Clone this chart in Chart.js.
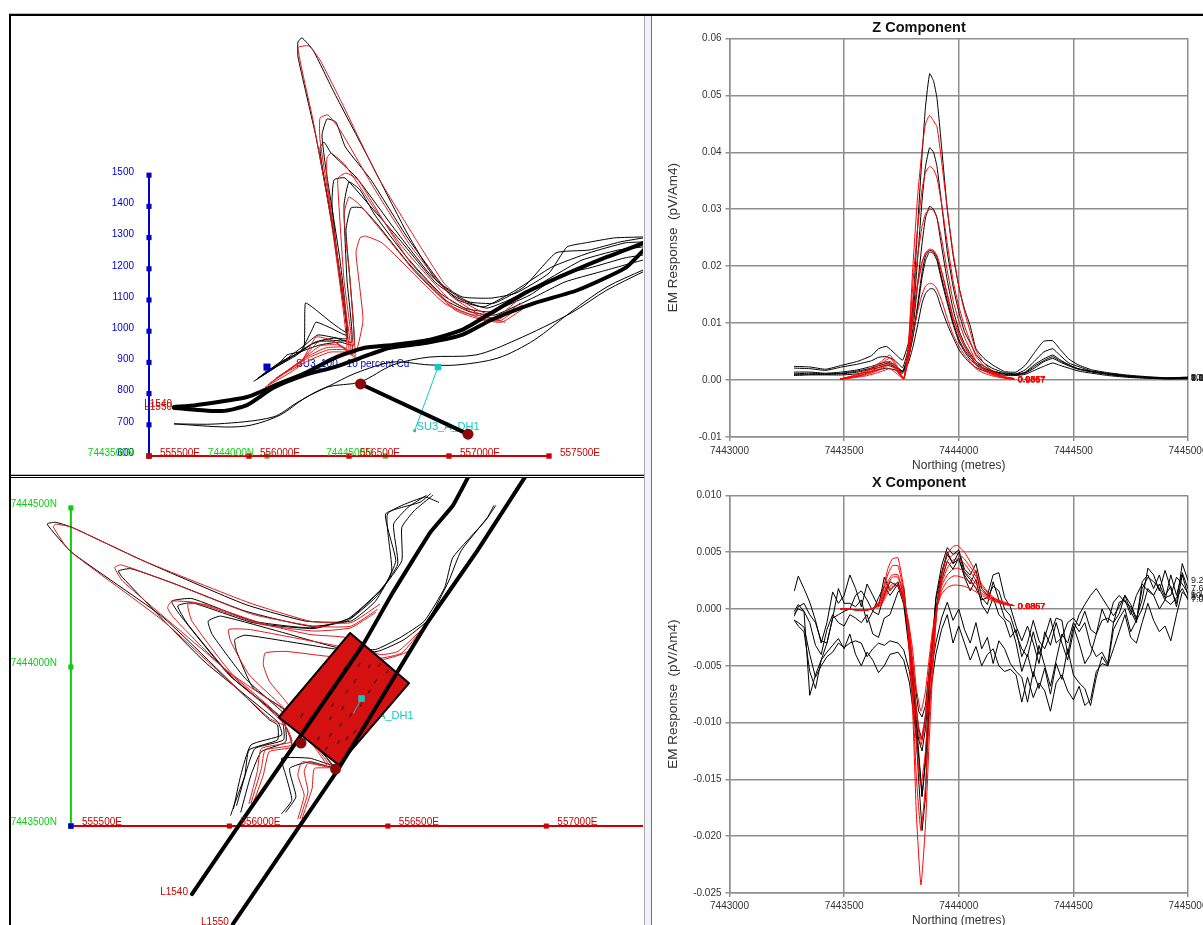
<!DOCTYPE html>
<html><head><meta charset="utf-8">
<script src="https://cdn.jsdelivr.net/npm/chart.js@4"></script>
<style>
html,body{margin:0;padding:0;background:#fff;width:1203px;height:925px;overflow:hidden;font-family:"Liberation Sans",Arial,sans-serif}
canvas{position:absolute;display:block;filter:blur(.35px)}
.b{position:absolute}
</style></head><body>
<canvas id="profile" style="left:11px;top:16px" width="632" height="460"></canvas>
<canvas id="plan" style="left:11px;top:478px" width="632" height="447"></canvas>
<canvas id="zc" style="left:650px;top:16px" width="616" height="458"></canvas>
<canvas id="xc" style="left:650px;top:471px" width="616" height="457"></canvas>
<div class="b" style="left:9px;top:13px;width:1194px;height:1px;background:#bbb"></div>
<div class="b" style="left:9px;top:14px;width:1194px;height:2px;background:#000"></div>
<div class="b" style="left:9px;top:14px;width:2px;height:911px;background:#000"></div>
<div class="b" style="left:11px;top:474px;width:633px;height:1px;background:#bbb"></div>
<div class="b" style="left:11px;top:475px;width:633px;height:1px;background:#000"></div>
<div class="b" style="left:11px;top:477px;width:633px;height:1px;background:#000"></div>
<div class="b" style="left:644px;top:16px;width:8px;height:909px;background:#f0f2f6;border-left:1px solid #a8a8a8;border-right:1px solid #707070;box-sizing:border-box"></div>
<script>
/* ---------- Z / X component profiles ---------- */
const zNorthBlack=[7443283,7443350,7443420,7443490,7443560,7443620,7443650,7443685,7443720,7443755,7443780,7443800,7443820,7443840,7443855,7443873,7443890,7443905,7443925,7443950,7443975,7444000,7444025,7444050,7444075,7444110,7444150,7444200,7444250,7444290,7444330,7444370,7444410,7444440,7444480,7444520,7444580,7444650,7444730,7444820,7444910,7445000];
const zBlack1=[.0024,.0023,.0019,.0026,.0033,.0043,.0055,.0059,.0047,.0035,.0065,.0130,.0265,.0395,.0480,.0538,.0525,.0495,.0410,.0300,.022,.0165,.0125,.0095,.0055,.0038,.0026,.0015,.0014,.0026,.0048,.0068,.0069,.0055,.0037,.0027,.0018,.0013,.0009,.0006,.0004,.0005];
const zBlack2=[.0021,.0020,.0017,.0023,.0028,.0034,.0040,.0041,.0035,.0022,.0055,.0110,.0210,.0315,.0375,.0408,.040,.0375,.031,.0225,.0165,.0120,.0085,.0065,.0045,.0030,.0020,.0013,.0011,.0018,.0033,.0049,.0055,.0044,.0030,.0024,.0016,.0012,.0008,.0005,.0004,.0005];
const zBlack3=[.0014,.0014,.0012,.0014,.0018,.0024,.0028,.0032,.0027,.0016,.0045,.0090,.0165,.0240,.0285,.0305,.030,.0285,.0235,.0175,.0125,.0088,.0064,.0047,.0033,.0024,.0016,.0011,.0010,.0014,.0027,.0037,.0044,.0036,.0027,.0020,.0015,.0010,.0007,.0005,.0003,.0004];
const zBlack4=[.0010,.0010,.0010,.0011,.0014,.0019,.0022,.0026,.0022,.0014,.0038,.0075,.0125,.0180,.0210,.0225,.0222,.021,.0175,.0135,.0098,.0068,.0050,.0036,.0027,.0019,.0014,.0010,.0009,.0012,.0021,.0032,.0038,.0032,.0025,.0019,.0014,.0010,.0006,.0004,.0002,.0003];
const zBlack5=[.0008,.0009,.0009,.0009,.0011,.0015,.0018,.0021,.0018,.0012,.0030,.0058,.0095,.0135,.0152,.0160,.0160,.0150,.0125,.0098,.0075,.0054,.0040,.0030,.0022,.0016,.0012,.0008,.0008,.0010,.0017,.0024,.0030,.0026,.0021,.0016,.0012,.0008,.0005,.0003,.0002,.0002];
const zBlack6=[.0011,.0012,.0011,.0012,.0016,.0021,.0025,.0029,.0024,.0015,.0040,.0078,.0130,.0190,.0218,.0228,.0225,.0215,.018,.014,.0102,.0072,.0053,.0040,.0030,.0021,.0015,.0011,.0010,.0013,.0024,.0034,.0041,.0034,.0026,.0020,.0015,.0011,.0007,.0004,.0003,.0003];
const zNorthRed=[7443484,7443540,7443590,7443630,7443660,7443700,7443730,7443760,7443780,7443800,7443820,7443840,7443855,7443873,7443890,7443905,7443925,7443950,7443975,7444000,7444025,7444050,7444075,7444110,7444150,7444200,7444240];
const zRed1=[.0002,.0008,.0015,.0024,.0032,.0044,.0025,.0003,.0060,.0200,.0320,.0405,.0450,.0465,.0455,.0445,.0385,.0300,.0225,.0165,.0120,.0085,.0052,.0030,.0015,.0006,.0003];
const zRed2=[.0002,.0007,.0013,.0021,.0028,.0039,.0022,.0003,.0055,.0170,.0265,.0335,.0365,.0375,.0370,.0355,.0310,.0240,.0175,.0130,.0095,.0068,.0042,.0025,.0013,.0005,.0003];
const zRed3=[.0002,.0006,.0011,.0018,.0024,.0033,.0019,.0002,.0050,.0140,.0215,.0270,.0292,.0300,.0298,.0285,.0248,.0192,.0140,.0104,.0075,.0054,.0034,.0020,.0011,.0005,.0002];
const zRed4=[.0001,.0005,.0009,.0014,.0019,.0027,.0015,.0002,.0045,.0110,.0165,.0205,.0224,.0230,.0228,.0218,.0190,.0148,.0108,.0080,.0058,.0042,.0026,.0016,.0009,.0004,.0002];
const zRed5=[.0001,.0004,.0007,.0011,.0015,.0020,.0011,.0002,.0035,.0080,.0120,.0150,.0165,.0170,.0168,.0160,.0140,.0108,.0080,.0060,.0044,.0032,.0020,.0012,.0007,.0003,.0001];
const zRed6=[.0002,.0005,.0010,.0016,.0021,.0030,.0017,.0002,.0045,.0112,.0170,.0208,.0222,.0228,.0226,.0218,.0192,.0152,.0112,.0082,.0060,.0044,.0029,.0018,.0010,.0004,.0002];

const xNorthBlack=[7443283,7443300,7443325,7443350,7443375,7443400,7443425,7443450,7443475,7443500,
7443525,7443550,7443575,7443600,7443625,7443650,7443675,7443700,7443735,7443760,
7443785,7443805,7443825,7443840,7443855,7443875,7443900,7443925,7443950,7443975,
7444000,7444025,7444050,7444075,7444100,7444125,7444150,7444175,7444200,7444225,
7444250,7444275,7444300,7444325,7444350,7444375,7444400,7444425,7444450,7444475,
7444500,7444525,7444550,7444575,7444600,7444625,7444650,7444675,7444700,7444725,
7444750,7444775,7444800,7444825,7444850,7444875,7444900,7444925,7444950,7444975,
7445000];
const xBlack1=[.0016,.0029,.0018,.0006,-.0010,-.0030,-.0012,.0015,.0005,.0012,
.0030,.0018,.0002,.0022,.0012,.0002,.0028,.0016,.0024,.0008,
-.0035,-.0078,-.0150,-.0195,-.0165,-.0060,.0010,.0038,.0054,.0048,
.0052,.0035,.0030,.0040,.0018,.0012,.0030,.0032,.0010,.0002,
-.0015,-.0028,-.0015,-.0030,-.0048,-.0020,-.0032,-.0012,-.0030,-.0045,
-.0020,-.0005,.0004,.0012,.0018,.0010,.0002,-.0006,.0002,.0012,
.0004,-.0008,.0008,.0036,.0030,.0016,.0034,.0018,.0005,.0040,
.0025];
const xBlack2=[-.0002,.0004,-.0002,-.0076,-.0058,-.0045,-.0030,-.0008,-.0005,-.0002,
.0000,.0012,.0016,.0008,-.0002,-.0005,.0012,.0024,.0020,.0004,
-.0038,-.0075,-.0125,-.0165,-.0130,-.0052,.0008,.0032,.0050,.0040,
.0044,.0030,.0022,.0034,.0010,.0004,.0024,.0008,-.0008,-.0012,
-.0030,-.0055,-.0040,-.0060,-.0032,-.0050,-.0068,-.0045,-.0022,-.0030,
-.0012,-.0020,-.0012,-.0032,-.0042,-.0038,-.0048,-.0012,-.0004,.0012,
-.0002,-.0012,.0024,.0030,.0018,.0030,.0012,.0020,.0002,.0030,
.0012];
const xBlack3=[-.0010,-.0012,-.0016,-.0040,-.0060,-.0050,-.0042,-.0038,-.0030,-.0034,
-.0030,-.0028,-.0030,-.0042,-.0035,-.0030,-.0032,-.0028,-.0030,-.0036,
-.0055,-.0085,-.0115,-.0125,-.0105,-.0060,-.0030,-.0008,.0006,-.0010,
.0000,-.0018,-.0030,-.0012,-.0035,-.0025,-.0048,-.0028,-.0035,-.0048,
-.0055,-.0060,-.0082,-.0055,-.0070,-.0052,-.0075,-.0048,-.0062,-.0035,
-.0058,-.0065,-.0070,-.0085,-.0060,-.0042,-.0050,-.0018,-.0008,.0000,
-.0020,-.0010,.0000,.0018,.0012,.0000,.0008,.0004,.0010,.0018,
.0008];
const xBlack4=[-.0010,-.0015,-.0020,-.0055,-.0070,-.0045,-.0038,-.0032,-.0026,-.0035,
-.0022,-.0040,-.0050,-.0038,-.0045,-.0056,-.0050,-.0040,-.0038,-.0045,
-.0065,-.0095,-.0130,-.0165,-.0135,-.0075,-.0040,-.0018,-.0005,-.0030,
-.0015,-.0030,-.0045,-.0033,-.0050,-.0040,-.0035,-.0050,-.0055,-.0053,
-.0058,-.0082,-.0060,-.0078,-.0065,-.0072,-.0090,-.0065,-.0058,-.0072,
-.0080,-.0068,-.0085,-.0080,-.0055,-.0048,-.0050,-.0035,-.0020,-.0005,
-.0025,-.0030,-.0012,.0005,-.0010,-.0020,-.0015,-.0028,-.0005,.0015,
.0010];
const xBlack5=[-.0004,.0000,-.0002,-.0012,-.0032,-.0040,-.0018,-.0005,-.0012,-.0015,
-.0005,-.0008,-.0012,-.0005,-.0022,-.0025,-.0008,-.0005,.0015,.0020,
-.0030,-.0070,-.0105,-.0115,-.0095,-.0055,-.0005,.0025,.0042,.0035,
.0045,.0028,.0016,.0026,.0004,-.0004,.0010,-.0005,-.0010,-.0025,
-.0018,-.0042,-.0030,-.0010,-.0028,-.0035,-.0022,-.0008,-.0010,-.0040,
-.0015,-.0030,-.0048,-.0040,-.0022,-.0010,-.0008,-.0012,.0006,.0008,
-.0005,.0012,.0022,.0016,.0012,.0022,.0010,.0012,.0028,.0022,
.0014];
const xBlack6=[-.0006,.0002,.0005,-.0005,-.0012,-.0028,-.0030,-.0008,.0018,.0005,
.0005,.0002,.0008,-.0012,-.0002,.0010,.0020,.0012,.0022,.0010,
-.0025,-.0060,-.0090,-.0095,-.0085,-.0045,.0000,.0030,.0048,.0040,
.0050,.0032,.0026,.0018,.0008,.0010,.0020,.0016,.0000,-.0006,
-.0022,-.0035,-.0042,-.0020,-.0040,-.0025,-.0008,-.0030,-.0025,-.0012,
-.0008,-.0015,-.0002,-.0018,-.0022,.0000,-.0012,.0006,.0012,.0006,
.0002,-.0010,.0018,.0028,.0024,.0018,.0008,.0030,.0012,.0032,
.0018];
const xNorthRed=[7443484,7443520,7443560,7443600,7443630,7443660,7443690,7443710,7443735,7443760,7443780,7443800,7443815,7443835,7443855,7443870,7443885,7443905,7443925,7443950,7443975,7443995,7444025,7444060,7444100,7444150,7444200,7444240];
const xRed1=[.0000,.0000,-.0001,-.0001,.0001,.0009,.0035,.0044,.0045,.0018,-.0025,-.0095,-.0180,-.0243,-.0190,-.0120,-.0060,.0000,.0030,.0048,.0055,.0056,.0050,.0038,.0022,.0010,.0006,.0003];
const xRed2=[.0000,.0000,-.0001,-.0001,.0001,.0008,.0030,.0038,.0038,.0015,-.0022,-.0080,-.0148,-.0195,-.0155,-.0100,-.0050,.0000,.0026,.0042,.0048,.0049,.0044,.0034,.0020,.0010,.0005,.0003];
const xRed3=[.0000,.0000,-.0001,-.0001,.0001,.0006,.0024,.0030,.0030,.0012,-.0018,-.0065,-.0118,-.0155,-.0125,-.0080,-.0040,.0000,.0022,.0036,.0043,.0044,.0040,.0030,.0018,.0009,.0005,.0003];
const xRed4=[.0000,.0000,-.0001,-.0001,.0001,.0005,.0021,.0028,.0028,.0010,-.0015,-.0052,-.0092,-.0120,-.0098,-.0062,-.0030,.0002,.0020,.0030,.0035,.0036,.0033,.0026,.0016,.0008,.0005,.0003];
const xRed5=[.0000,.0000,-.0001,-.0001,.0001,.0004,.0017,.0022,.0022,.0008,-.0012,-.0048,-.0088,-.0115,-.0092,-.0058,-.0028,.0002,.0016,.0025,.0029,.0029,.0027,.0022,.0014,.0008,.0004,.0003];
const xRed6=[.0000,.0000,-.0001,-.0001,.0001,.0003,.0014,.0020,.0020,.0007,-.0010,-.0038,-.0070,-.0090,-.0072,-.0045,-.0020,.0002,.0013,.0019,.0021,.0021,.0020,.0017,.0012,.0007,.0004,.0003];
const blackEndLabels=["9.20","10.4","7.05","8.01","6.12","7.60"];
const redEndLabels=["0.0267","0.0357","0.0657","0.0857","0.1067","0.1357"];

/* ---------- section view (easting, elevation) ---------- */
const secThick1=[[555625,757],[555735,763],[555990,789],[556135,828],[556280,866],[556427,914],[556573,946],[556720,956],[556900,972],[557065,1004],[557210,1058],[557390,1126],[557610,1190],[557790,1238],[557975,1283]];
const secThick2=[[555625,754],[555865,744],[555990,763],[556120,818],[556282,860],[556427,885],[556555,914],[556700,946],[556882,962],[557065,988],[557210,1036],[557427,1090],[557645,1132],[557882,1203],[557973,1260]];
const secThin1=[[555627,703],[555845,703],[556120,725],[556245,773],[556390,821],[556555,837],[556720,892],[556900,917],[557135,924],[557335,972],[557610,1058],[557790,1132],[557970,1190]];
const secThin2=[[555627,703],[555882,693],[556010,699],[556155,731],[556280,786],[556390,821],[556535,866],[556720,901],[556900,892],[557045,892],[557245,914],[557427,972],[557610,1062],[557790,1142],[557970,1196]];
const secBlack1=[[556025,840],[556135,885],[556190,924],[556273,940],[556282,1090],[556335,1068],[556410,1029],[556490,997],[556427,1302],[556335,1622],[556245,1879],[556245,1927],[556265,1940],[556320,1901],[556427,1763],[556610,1539],[556790,1315],[556935,1164],[557065,1110],[557210,1106],[557335,1122],[557500,1186],[557590,1270],[557682,1283],[557827,1299],[557973,1302]];
const secBlack2=[[556035,844],[556155,901],[556255,933],[556315,1004],[556335,1029],[556410,1010],[556490,988],[556455,1228],[556385,1517],[556365,1629],[556390,1680],[556435,1670],[556482,1590],[556610,1485],[556790,1302],[556975,1142],[557100,1094],[557227,1090],[557375,1142],[557535,1251],[557700,1260],[557855,1286],[557973,1299]];
const secBlack3=[[556045,850],[556180,908],[556280,956],[556345,988],[556490,978],[556435,1260],[556365,1533],[556355,1587],[556375,1606],[556410,1571],[556535,1494],[556720,1334],[556900,1186],[557045,1100],[557175,1078],[557335,1132],[557515,1206],[557700,1251],[557880,1283],[557970,1286]];
const secBlack4=[[556055,853],[556205,914],[556305,956],[556380,972],[556490,972],[556455,1164],[556415,1404],[556425,1485],[556480,1491],[556610,1398],[556755,1292],[556935,1154],[557045,1106],[557190,1074],[557375,1122],[557515,1174],[557665,1228],[557845,1260],[557970,1270]];
const secBlack5=[[556065,860],[556230,920],[556330,965],[556430,978],[556515,965],[556490,1164],[556475,1404],[556500,1478],[556555,1453],[556630,1372],[556780,1244],[556955,1122],[557080,1074],[557205,1062],[557405,1116],[557555,1180],[557705,1203],[557880,1235],[557970,1244]];
const secBlack6=[[556080,869],[556255,933],[556355,956],[556455,965],[556525,956],[556505,1164],[556485,1324],[556510,1395],[556565,1395],[556645,1340],[556805,1212],[556980,1100],[557105,1062],[557230,1052],[557430,1110],[557580,1158],[557755,1190],[557970,1228]];
const secRed1=[[556082,821],[556245,885],[556335,981],[556410,972],[556490,946],[556410,1356],[556320,1677],[556245,1908],[556300,1914],[556355,1869],[556465,1731],[556645,1494],[556827,1302],[556975,1154],[557082,1090],[557210,1052],[557320,1106]];
const secRed2=[[556095,828],[556255,901],[556345,965],[556430,965],[556500,940],[556430,1292],[556355,1613],[556355,1683],[556395,1693],[556455,1645],[556615,1469],[556805,1276],[557005,1116],[557130,1062],[557230,1042],[557345,1100]];
const secRed3=[[556105,834],[556265,908],[556355,953],[556445,956],[556510,933],[556445,1228],[556390,1485],[556390,1555],[556410,1571],[556480,1533],[556615,1404],[556780,1260],[557005,1100],[557145,1052],[557245,1036],[557355,1090]];
const secRed4=[[556120,840],[556280,914],[556380,946],[556465,949],[556520,924],[556475,1164],[556445,1453],[556445,1491],[556485,1507],[556545,1485],[556655,1372],[556805,1222],[557015,1081],[557155,1042],[557255,1033],[557365,1084]];
const secRed5=[[556135,850],[556295,914],[556395,940],[556480,940],[556530,917],[556505,1164],[556475,1372],[556500,1430],[556555,1404],[556680,1308],[556830,1190],[557030,1068],[557165,1036],[557265,1029],[557375,1074]];
const secRed6=[[556150,856],[556305,908],[556405,933],[556495,933],[556535,933],[556570,1036],[556535,1251],[556555,1299],[556582,1305],[556665,1283],[556790,1206],[556975,1090],[557082,1058],[557190,1045],[557280,1029]];
const secDrill=[[556558,831],[557095,670]];
const secCyan=[[556945,885],[556828,681]];
const secBlueMark=[[556090,885]];
const elevTicks=[600,700,800,900,1000,1100,1200,1300,1400,1500];
const secEastTicks=[555500,556000,556500,557000,557500];
const secNorthTicks=[[555500,"7443500N"],[556090,"7444000N"],[556682,"7444500N"]];

/* ---------- plan view (easting, northing) ---------- */
const planL1540=[[555882,7443286],[556023,7443492],[556223,7443781],[556422,7444071],[556512,7444228],[556634,7444423],[556705,7444507],[556756,7444602]];
const planL1550=[[556011,7443192],[556216,7443492],[556345,7443681],[556531,7443986],[556628,7444144],[556782,7444365],[556936,7444602]];
const planBlack1=[[556004,7443534],[556017,7443571],[556049,7443660],[556062,7443739],[556152,7443771],[556152,7443818],[556126,7443834],[555792,7444155],[555503,7444360],[555425,7444449],[555451,7444455],[555503,7444439],[555728,7444334],[556049,7444197],[556242,7444144],[556383,7444144],[556461,7444207],[556512,7444302],[556499,7444481],[556615,7444534],[556660,7444518]];
const planBlack2=[[556013,7443555],[556036,7443660],[556068,7443755],[556165,7443786],[556152,7443828],[555920,7444018],[555663,7444281],[555650,7444302],[555689,7444309],[555818,7444265],[556049,7444176],[556255,7444128],[556371,7444144],[556461,7444218],[556493,7444260],[556525,7444334],[556493,7444481],[556602,7444518],[556634,7444544]];
const planBlack3=[[556023,7443565],[556056,7443681],[556081,7443744],[556171,7443771],[556165,7443834],[555998,7443976],[555843,7444165],[555818,7444207],[555882,7444215],[556075,7444144],[556255,7444123],[556371,7444149],[556474,7444239],[556531,7444323],[556518,7444449],[556564,7444502],[556621,7444539]];
const planBlack4=[[556165,7443539],[556197,7443581],[556178,7443660],[556165,7443713],[556255,7443713],[556326,7443692],[556178,7443849],[556049,7443965],[555946,7444102],[555933,7444144],[555972,7444160],[556152,7444113],[556345,7444060],[556461,7444055],[556538,7444092],[556615,7444144],[556679,7444249],[556705,7444344],[556808,7444460],[556840,7444507]];
const planBlack5=[[556178,7443544],[556210,7443592],[556190,7443681],[556255,7443702],[556326,7443686],[556190,7443855],[556075,7443934],[556023,7444049],[556017,7444086],[556049,7444100],[556178,7444081],[556345,7444055],[556467,7444049],[556551,7444086],[556628,7444149],[556692,7444270],[556731,7444365],[556814,7444470],[556834,7444507]];
const planBlack6=[[556036,7443544],[556068,7443660],[556101,7443734],[556178,7443765],[556171,7443834],[556011,7443965],[555869,7444134],[555837,7444192],[555882,7444202],[556075,7444139],[556268,7444121],[556383,7444155],[556480,7444244],[556544,7444334],[556544,7444439],[556583,7444491],[556641,7444539]];
const planRed1=[[556062,7443571],[556088,7443671],[556101,7443744],[556197,7443765],[556178,7443813],[556126,7443839],[555792,7444144],[555496,7444365],[555445,7444439],[555451,7444449],[555503,7444439],[555728,7444334],[556062,7444202],[556255,7444144],[556383,7444139],[556474,7444197]];
const planRed2=[[556068,7443571],[556101,7443681],[556113,7443739],[556197,7443755],[556171,7443823],[555946,7444028],[555663,7444270],[555638,7444313],[555657,7444321],[555702,7444307],[555843,7444255],[556075,7444165],[556268,7444128],[556383,7444128],[556467,7444181]];
const planRed3=[[556075,7443571],[556107,7443660],[556126,7443734],[556197,7443749],[556165,7443839],[555959,7444018],[555824,7444155],[555805,7444186],[555818,7444207],[555895,7444202],[556101,7444134],[556268,7444113],[556383,7444123],[556461,7444171]];
const planRed4=[[556216,7443523],[556236,7443597],[556216,7443660],[556229,7443702],[556306,7443692],[556178,7443860],[556011,7443976],[555882,7444144],[555869,7444197],[555920,7444197],[556113,7444134],[556255,7444102],[556371,7444092],[556474,7444039],[556532,7444049],[556602,7444113]];
const planRed5=[[556223,7443523],[556248,7443607],[556236,7443671],[556248,7443697],[556319,7443686],[556171,7443871],[556062,7443976],[556004,7444081],[555998,7444118],[556062,7444118],[556203,7444092],[556345,7444065],[556474,7444028],[556544,7444044],[556608,7444118]];
const planRed6=[[556229,7443523],[556261,7443618],[556268,7443681],[556326,7443686],[556178,7443892],[556126,7443955],[556107,7444007],[556113,7444044],[556178,7444049],[556306,7444034],[556480,7444023],[556564,7444049],[556615,7444128]];
const planPlate=[[556381,7444107],[556567,7443949],[556345,7443692],[556156,7443842],[556381,7444107]];
const planMesh=[[556255,7443839],[556293,7443881],[556326,7443881],[556358,7443871],[556371,7443923],[556396,7443955],[556409,7444007],[556441,7444002],[556474,7444007],[556499,7443986],[556441,7443923],[556416,7443881],[556383,7443849],[556351,7443818],[556319,7443786],[556281,7443776],[556345,7443765],[556306,7443744],[556371,7443776],[556396,7443797],[556461,7443955],[556319,7443839],[556229,7443849],[556364,7443997]];
const planHoleTop=[[556417,7443901]];
const planHoleLine=[[556417,7443901],[556392,7443855]];
const planLoops=[[556226,7443761],[556335,7443679]];
const planNorthTicks=[7443500,7444000,7444500];
const planEastTicks=[555500,556000,556500,557000,557500];

const COL={blk:'#000',red:'#e01818',pure:'#ff0000',axRed:'#cc0000',blue:'#0000cc',green:'#10cc10',cyan:'#10c8c8',dot:'#8c0808',plate:'#d41010'};
const FONT='"Liberation Sans",Arial,sans-serif';

const textPlugin={id:'pointText',
 draw(chart,layer){
  const items=(chart.options.plugins.pointText||{}).items||[];
  const xs=chart.scales.x,ys=chart.scales.y,ctx=chart.ctx;
  ctx.save();ctx.textBaseline='middle';
  items.filter(t=>(t.under?'under':'over')===layer).forEach(t=>{
    ctx.font=(t.size||10)+'px '+FONT;ctx.fillStyle=t.color;ctx.textAlign=t.align||'left';
    ctx.fillText(t.text,xs.getPixelForValue(t.x)+(t.dx||0),ys.getPixelForValue(t.y)+(t.dy||0));
  });
  ctx.restore();
 },
 beforeDatasetsDraw(c){this.draw(c,'under')},
 afterDatasetsDraw(c){this.draw(c,'over')}
};
Chart.register(textPlugin);

function ln(data,color,width,tension,extra){return Object.assign({data,showLine:true,borderColor:color,backgroundColor:color,borderWidth:width,pointRadius:0,tension:tension||0,borderJoinStyle:'round',borderCapStyle:'round'},extra||{})}
function marks(data,color,r,style){return {data,showLine:false,pointStyle:style||'rect',pointRadius:r,pointBackgroundColor:color,pointBorderColor:color,pointBorderWidth:0,backgroundColor:color}}
function stack(list){const n=list.length;list.forEach((d,i)=>d.order=n-i);return list}
function zip(xs,ys){return xs.map((x,i)=>[x,ys[i]])}

function mapChart(id,xr,yr,datasets,items){
 return new Chart(document.getElementById(id),{type:'scatter',data:{datasets:stack(datasets)},options:{
  responsive:false,animation:false,events:[],devicePixelRatio:1,layout:{autoPadding:false,padding:0},
  plugins:{legend:{display:false},tooltip:{enabled:false},pointText:{items}},
  scales:{x:{type:'linear',display:false,min:xr[0],max:xr[1]},y:{type:'linear',display:false,min:yr[0],max:yr[1]}}}});
}

/* section view */
const secBase=600,secLeft=555500;
const secItems=[
 ...elevTicks.map(v=>({x:secLeft,y:v,text:String(v),color:COL.blue,align:'right',dx:-15,dy:-3})),
 ...secNorthTicks.map(t=>({x:t[0],y:secBase,text:t[1],color:COL.green,align:'right',dx:t[0]===secLeft?-15:-13,dy:-3})),
 ...secEastTicks.map(v=>({x:v,y:secBase,text:v+'E',color:COL.axRed,dx:11,dy:-3})),
 {x:secBlueMark[0][0],y:secBlueMark[0][1],text:'SU3_100 - 10 percent Cu',color:COL.blue,dx:29,dy:-3,under:true},
 {x:secCyan[1][0],y:secCyan[1][1],text:'SU3_A_DH1',color:COL.cyan,dx:2,dy:-4,size:11,under:true},
 {x:secThick1[0][0],y:secThick1[0][1],text:'L1540',color:COL.axRed,align:'right',dx:-2,dy:-3},
 {x:secThick2[0][0],y:secThick2[0][1],text:'L1550',color:COL.axRed,align:'right',dx:-2,dy:-1}
];
mapChart('profile',[554810,557970],[536,2010],[
 ln(secNorthTicks.map(t=>[t[0],secBase]),COL.green,2),
 marks(secNorthTicks.map(t=>[t[0],secBase]),COL.green,3.6),
 ln(elevTicks.map(v=>[secLeft,v]),COL.blue,2),
 marks(elevTicks.map(v=>[secLeft,v]),COL.blue,3.6),
 ln(secEastTicks.map(v=>[v,secBase]),COL.axRed,2),
 marks(secEastTicks.map(v=>[v,secBase]),COL.axRed,3.8),
 ...[secBlack1,secBlack2,secBlack3,secBlack4,secBlack5,secBlack6].map(d=>ln(d,COL.blk,1,.15)),
 ...[secRed1,secRed2,secRed3,secRed4,secRed5,secRed6].map(d=>ln(d,COL.red,1,.15)),
 ln(secThin1,COL.blk,1,.3),ln(secThin2,COL.blk,1,.3),
 ln(secThick1,COL.blk,4,.2),ln(secThick2,COL.blk,4,.2),
 ln(secCyan,COL.cyan,1),marks([secCyan[0]],COL.cyan,4.6),marks([secCyan[1]],COL.cyan,2),
 marks(secBlueMark,COL.blue,5),
 ln(secDrill,COL.blk,4),marks(secDrill,COL.dot,5.5,'circle')
],secItems);

/* plan view */
const planItems=[
 {x:planHoleLine[1][0],y:planHoleLine[1][1],text:'SU3_A_DH1',color:COL.cyan,dx:-3,dy:3,size:11,under:true},
 ...planNorthTicks.map(v=>({x:555500,y:v,text:v+'N',color:COL.green,align:'right',dx:-14,dy:-4})),
 ...planEastTicks.map(v=>({x:v,y:7443500,text:v+'E',color:COL.axRed,dx:11,dy:-4})),
 {x:planL1540[0][0],y:planL1540[0][1],text:'L1540',color:COL.axRed,align:'right',dx:-4,dy:-2},
 {x:planL1550[0][0],y:planL1550[0][1],text:'L1550',color:COL.axRed,align:'right',dx:-4,dy:-2}
];
mapChart('plan',[555311,557305],[7443189,7444594],[
 ln(planEastTicks.map(v=>[v,7443500]).concat([[557400,7443500]]),COL.axRed,2),
 marks(planEastTicks.map(v=>[v,7443500]),COL.axRed,3.6),
 ln(planNorthTicks.map(v=>[555500,v]),COL.green,2),
 marks(planNorthTicks.map(v=>[555500,v]),COL.green,3.6),
 marks([[555500,7443500]],COL.blue,3.8),
 ...[planBlack1,planBlack2,planBlack3,planBlack4,planBlack5,planBlack6].map(d=>ln(d,COL.blk,1,.15)),
 ...[planRed1,planRed2,planRed3,planRed4,planRed5,planRed6].map(d=>ln(d,COL.red,1,.15)),
 ln(planPlate,COL.blk,2,0,{fill:'shape',backgroundColor:COL.plate}),
 {data:planMesh,showLine:false,pointStyle:'line',pointRadius:2,pointRotation:-60,pointBorderColor:'#000',pointBorderWidth:1},
 ln(planHoleLine,COL.cyan,1),marks(planHoleTop,COL.cyan,4.6),
 ln(planL1540,COL.blk,4,.1),ln(planL1550,COL.blk,4,.1),
 marks(planLoops,COL.dot,5.5,'circle')
],planItems);

/* EM response charts */
function emChart(id,title,yr,step,dec,blackX,blacks,redX,reds,opt){
 const items=[
  ...blacks.map((s,i)=>({x:blackX[blackX.length-1],y:s[s.length-1],text:blackEndLabels[i],color:'#222',dx:3,size:9})),
  ...reds.map((s,i)=>({x:redX[redX.length-1],y:s[s.length-1],text:redEndLabels[i],color:COL.pure,dx:4,dy:1,size:9}))
 ];
 return new Chart(document.getElementById(id),{type:'scatter',
 data:{datasets:stack([
   ...blacks.map(s=>ln(zip(blackX,s),COL.blk,1,opt.tension)),
   ...reds.map(s=>ln(zip(redX,s),COL.pure,1,.15))
 ])},
 options:{responsive:false,animation:false,events:[],devicePixelRatio:1,
  layout:{autoPadding:false,padding:{left:0,right:78,top:0,bottom:0}},
  plugins:{legend:{display:false},tooltip:{enabled:false},pointText:{items},
   title:{display:true,text:title,color:'#111',font:{family:FONT,size:14.5,weight:'bold'},lineHeight:1.16,padding:{top:opt.titleTop,bottom:opt.titleBottom}}},
  scales:{
   x:{type:'linear',min:7443000,max:7445000,afterFit(s){s.height=opt.xHeight},
    grid:{color:'#8e8e8e',lineWidth:1.5,tickLength:4,tickColor:'#8e8e8e',drawTicks:true},border:{color:'#8e8e8e',width:1.5},
    ticks:{stepSize:500,autoSkip:false,maxRotation:0,minRotation:0,padding:opt.xPad,color:'#333',font:{family:FONT,size:10},callback:v=>String(v)},
    title:{display:true,text:'Northing (metres)',color:'#333',font:{family:FONT,size:12},padding:{top:0,bottom:opt.xTitleBottom}}},
   y:{type:'linear',min:yr[0],max:yr[1],afterFit(s){s.width=79.5},
    grid:{color:'#8e8e8e',lineWidth:1.5,tickLength:4,tickColor:'#8e8e8e'},border:{color:'#8e8e8e',width:1.5},
    ticks:{stepSize:step,autoSkip:false,padding:4,color:'#333',font:{family:FONT,size:10},callback:v=>(Math.abs(v)<1e-9?0:Number(v)).toFixed(dec)},
    title:{display:true,text:'EM Response  (pV/Am4)',color:'#333',font:{family:FONT,size:13.5},padding:{top:15,bottom:0}}}
  }}});
}
emChart('zc','Z Component',[-.01,.06],.01,2,zNorthBlack,[zBlack1,zBlack2,zBlack3,zBlack4,zBlack5,zBlack6],zNorthRed,[zRed1,zRed2,zRed3,zRed4,zRed5,zRed6],{tension:.15,titleTop:3,titleBottom:2,xHeight:37,xPad:4,xTitleBottom:1});
emChart('xc','X Component',[-.025,.01],.005,3,xNorthBlack,[xBlack1,xBlack2,xBlack3,xBlack4,xBlack5,xBlack6],xNorthRed,[xRed1,xRed2,xRed3,xRed4,xRed5,xRed6],{tension:0,titleTop:3,titleBottom:4,xHeight:35,xPad:3,xTitleBottom:0});
</script>
</body></html>
